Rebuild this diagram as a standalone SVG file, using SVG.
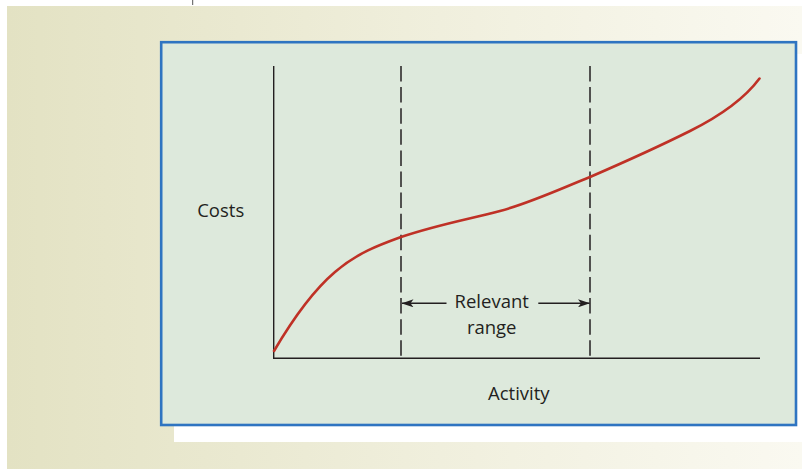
<svg xmlns="http://www.w3.org/2000/svg" width="802" height="469" viewBox="0 0 802 469">
  <defs>
    <linearGradient id="bg" x1="0" y1="0" x2="1" y2="0">
      <stop offset="0" stop-color="#e3e2c3"/>
      <stop offset="0.5" stop-color="#efeedb"/>
      <stop offset="1" stop-color="#faf9f1"/>
    </linearGradient>
    <marker id="ah" viewBox="0 0 12 8" refX="11.5" refY="4" markerWidth="12" markerHeight="8" markerUnits="userSpaceOnUse" orient="auto">
      <path d="M0,0 L12,4 L0,8 L3,4 Z" fill="#231f20"/>
    </marker>
    <style>
      .ax { stroke: #231f20; stroke-width: 1.4; fill: none; }
      .dash { stroke: #231f20; stroke-width: 1.5; fill: none; stroke-dasharray: 15.5 5.6; }
      .curve { stroke: #bf3126; stroke-width: 2.6; fill: none; stroke-linecap: round; }
      .lbl { font-family: "Open Sans", "Liberation Sans", sans-serif; font-size: 18.5px; fill: #231f20; }
    </style>
  </defs>
  <rect x="0" y="0" width="802" height="469" fill="#ffffff"/>
  <rect x="7" y="6" width="795" height="463" fill="url(#bg)"/>
  <line x1="192.7" y1="0" x2="192.7" y2="5" stroke="#555" stroke-width="1"/>
  <rect x="174" y="54" width="628" height="388" fill="#ffffff"/>
  <rect x="161.2" y="42.2" width="634.8" height="382.8" fill="#dde9dc" stroke="#2e74c1" stroke-width="2.6"/>

  <g id="axes">
    <line class="ax" x1="273.7" y1="66" x2="273.7" y2="358.5"/>
    <line class="ax" x1="273" y1="358.3" x2="760" y2="358.3"/>
  </g>
  <g id="boundaries">
    <line class="dash" x1="401" y1="66" x2="401" y2="358"/>
    <line class="dash" x1="590" y1="66" x2="590" y2="358"/>
  </g>
  <g id="cost-curve">
    <path class="curve" d="M274,351 C294,317 315,289 335,272 C357,253 379,245 401,237 C440,224 470,219 500,211 C530,203 560,189 590,177 C620,164 660,146 690,131 C718,117 745,98 759.5,78.5"/>
  </g>
  <g id="connectors">
    <line class="ax" x1="446.5" y1="303.3" x2="402" y2="303.3" marker-end="url(#ah)"/>
    <line class="ax" x1="538.3" y1="303.3" x2="589.5" y2="303.3" marker-end="url(#ah)"/>
  </g>
  <g id="costs-label">
    <text class="lbl" x="220.7" y="216.7" text-anchor="middle">Costs</text>
  </g>
  <g id="relevant-range-label">
    <text class="lbl" x="491.7" y="307.7" text-anchor="middle">Relevant</text>
    <text class="lbl" x="491.7" y="334.3" text-anchor="middle">range</text>
  </g>
  <g id="activity-label">
    <text class="lbl" x="518.8" y="400.3" text-anchor="middle">Activity</text>
  </g>
</svg>
